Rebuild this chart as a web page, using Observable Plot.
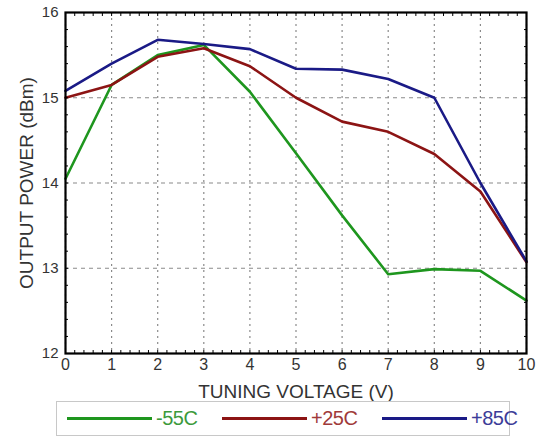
<!DOCTYPE html>
<html>
<head>
<meta charset="utf-8">
<script src="https://cdn.jsdelivr.net/npm/d3@7"></script>
<script src="https://cdn.jsdelivr.net/npm/@observablehq/plot@0.6"></script>
<style>
  body { margin: 0; background: #fff; font-family: "Liberation Sans", Arial, sans-serif; }
  #wrap { position: relative; width: 537px; height: 439px; }
  #chart { position: absolute; left: 0; top: 0; }
  #legend { position: absolute; left: 56px; top: 401px; width: 454px; height: 35px;
    border: 1px solid #c8c8c8; background: #fff; box-sizing: border-box; }
  .item { position: absolute; top: 0; height: 33px; display: flex; align-items: center; font-size: 20px; letter-spacing: -0.5px; }
  .sw { display: inline-block; width: 85px; height: 3px; margin-right: 4px; }
</style>
</head>
<body>
<div id="wrap">
  <div id="chart"></div>
  <div id="legend"></div>
</div>
<script>
const voltage = [0, 1, 2, 3, 4, 5, 6, 7, 8, 9, 10];
const seriesNames = ["-55C", "+25C", "+85C"];
const seriesColors = ["#1e961e", "#8c1414", "#1a1a86"];
const textColors = ["#3c9a3c", "#a03a3a", "#3c3c98"];
const powerM55 = [14.05, 15.15, 15.50, 15.62, 15.07, 14.35, 13.62, 12.93, 12.99, 12.97, 12.62];
const powerP25 = [15.00, 15.15, 15.48, 15.58, 15.37, 15.00, 14.72, 14.60, 14.34, 13.90, 13.07];
const powerP85 = [15.08, 15.40, 15.68, 15.63, 15.57, 15.34, 15.33, 15.22, 15.00, 14.00, 13.08];
const xTicks = [0, 1, 2, 3, 4, 5, 6, 7, 8, 9, 10];
const yTicks = [12, 13, 14, 15, 16];

const allSeries = [powerM55, powerP25, powerP85];
const data = [];
allSeries.forEach((vals, i) => vals.forEach((v, j) => data.push({x: voltage[j], y: v, s: seriesNames[i]})));

const xMinor = d3.range(0, 10.001, 0.2);
const yMinor = d3.range(12, 16.001, 0.2);

const chart = Plot.plot({
  width: 537,
  height: 404,
  marginLeft: 65,
  marginRight: 11,
  marginTop: 12,
  marginBottom: 51,
  style: {fontFamily: "'Liberation Sans', Arial, sans-serif", color: "#333", background: "transparent"},
  x: {domain: [0, 10]},
  y: {domain: [12, 16]},
  color: {domain: seriesNames, range: seriesColors},
  marks: [
    Plot.gridX(xTicks, {stroke: "#8a8a8a", strokeOpacity: 1, strokeDasharray: "2,4", strokeWidth: 1.2}),
    Plot.gridY(yTicks, {stroke: "#8a8a8a", strokeOpacity: 1, strokeDasharray: "4,4", strokeWidth: 1.2}),
    Plot.line(data, {x: "x", y: "y", z: "s", stroke: "s", strokeWidth: 2.6}),
    Plot.axisX(xMinor, {anchor: "bottom", tickSize: -3, text: null, label: null, stroke: "#000"}),
    Plot.axisX(xMinor, {anchor: "top", tickSize: -3, text: null, label: null, stroke: "#000"}),
    Plot.axisY(yMinor, {anchor: "left", tickSize: -3, text: null, label: null, stroke: "#000"}),
    Plot.axisY(yMinor, {anchor: "right", tickSize: -3, text: null, label: null, stroke: "#000"}),
    Plot.axisX(xTicks, {anchor: "bottom", tickSize: 0, tickPadding: 5, fontSize: 16, tickFormat: "d", label: "TUNING VOLTAGE (V)", labelAnchor: "center", labelArrow: "none", labelOffset: 44}),
    Plot.axisY(yTicks, {anchor: "left", tickSize: 0, tickPadding: 7, fontSize: 15, tickFormat: "d", label: "OUTPUT POWER (dBm)", labelAnchor: "center", labelArrow: "none", labelOffset: 46}),
    Plot.frame({stroke: "#000", strokeWidth: 2.2})
  ]
});
chart.querySelectorAll("[aria-label='x-axis label'] text, [aria-label='y-axis label'] text").forEach(t => t.setAttribute("font-size", "19"));
document.getElementById("chart").appendChild(chart);

const legend = document.getElementById("legend");
const lefts = [10, 165, 325];
seriesNames.forEach((n, i) => {
  const it = document.createElement("div");
  it.className = "item";
  it.style.left = lefts[i] + "px";
  it.innerHTML = `<span class="sw" style="background:${seriesColors[i]}"></span><span style="color:${textColors[i]}">${n}</span>`;
  legend.appendChild(it);
});
</script>
</body>
</html>
